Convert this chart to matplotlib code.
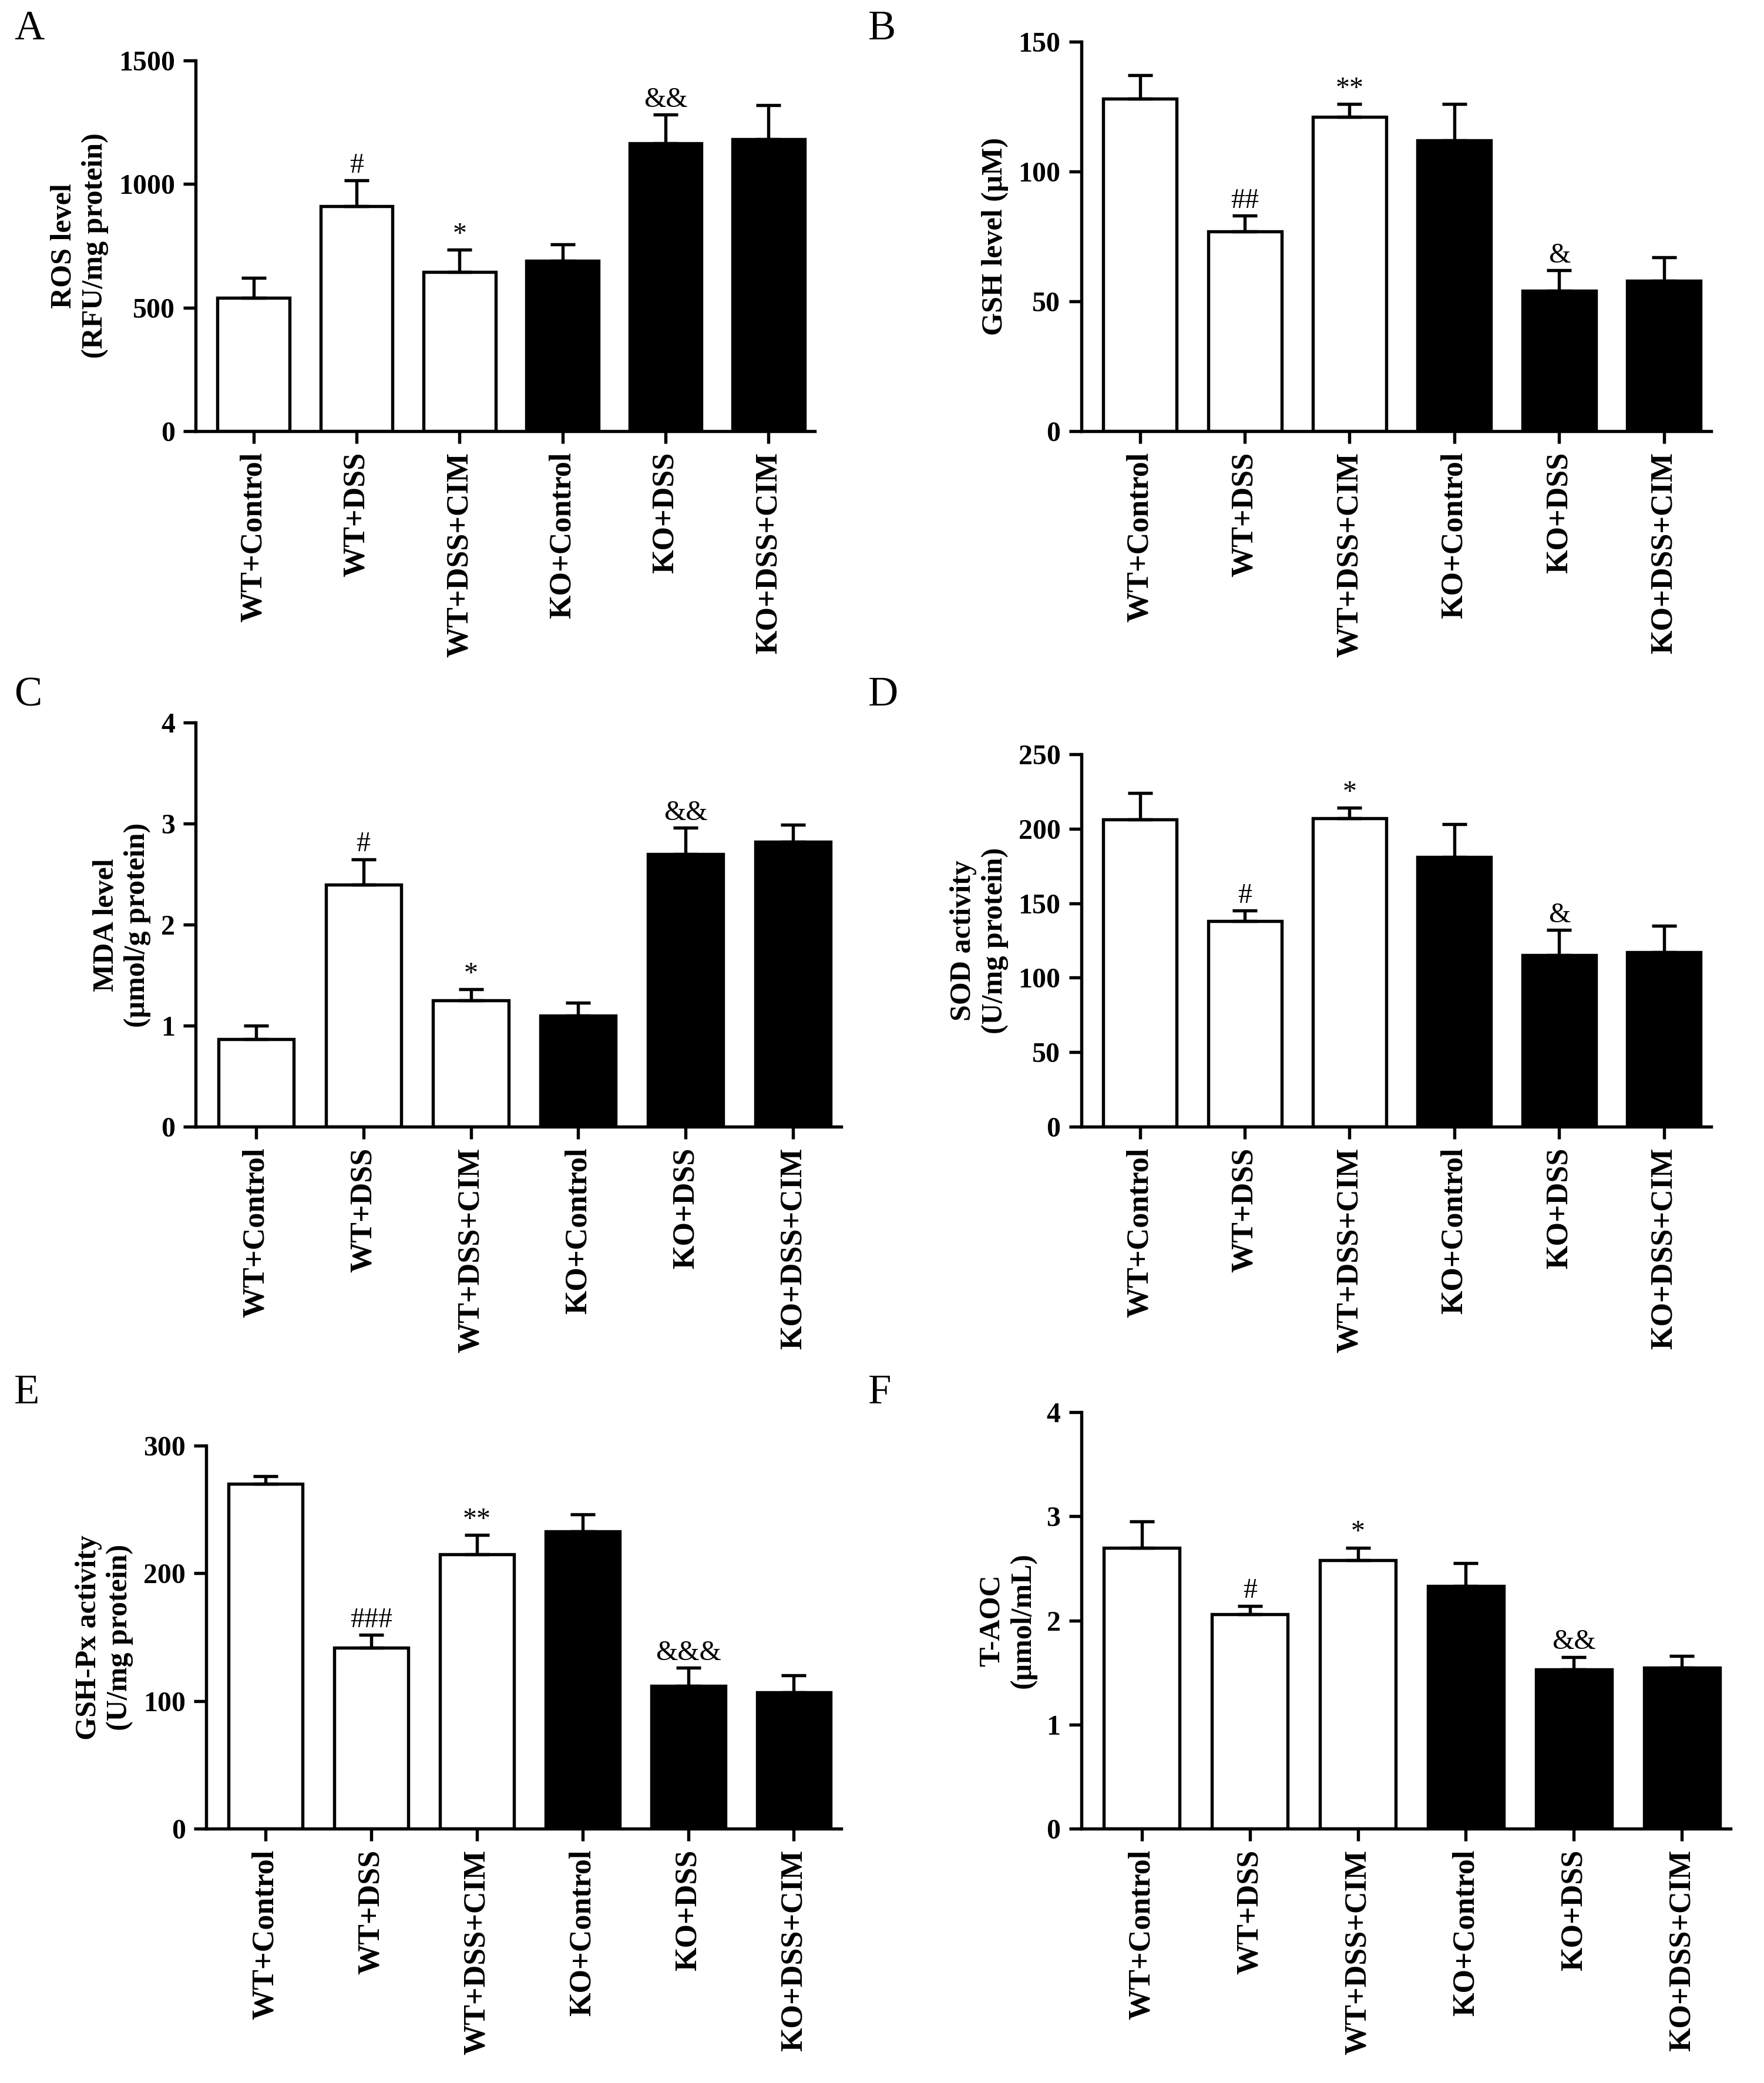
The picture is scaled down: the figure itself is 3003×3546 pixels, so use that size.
import numpy as np
import matplotlib.pyplot as plt

plt.rcParams['font.family'] = ['Liberation Serif', 'DejaVu Serif']

groups = ["WT+Control", "WT+DSS", "WT+DSS+CIM", "KO+Control", "KO+DSS", "KO+DSS+CIM"]
colors = ["white", "white", "white", "black", "black", "black"]

ros = [540, 910, 645, 690, 1165, 1180]
ros_err = [80, 105, 90, 65, 115, 140]
gsh = [128, 77, 121, 112, 54, 58]
gsh_err = [9, 6, 5, 14, 8, 9]
mda = [0.87, 2.40, 1.25, 1.10, 2.70, 2.82]
mda_err = [0.13, 0.25, 0.11, 0.13, 0.26, 0.17]
sod = [206, 138, 207, 181, 115, 117]
sod_err = [18, 7, 7, 22, 17, 18]
gpx = [270, 142, 215, 233, 112, 107]
gpx_err = [6, 10, 15, 13, 14, 13]
taoc = [2.70, 2.06, 2.58, 2.33, 1.53, 1.55]
taoc_err = [0.25, 0.08, 0.12, 0.22, 0.12, 0.11]

panels = [
    ("A", ros, ros_err, "ROS level\n(RFU/mg protein)", [0, 500, 1000, 1500], ["", "#", "*", "", "&&", ""], [0.111, 0.793, 0.351, 0.178], (0.008, 0.977)),
    ("B", gsh, gsh_err, "GSH level (\u03bcM)", [0, 50, 100, 150], ["", "##", "**", "", "&", ""], [0.613, 0.793, 0.357, 0.187], (0.492, 0.977)),
    ("C", mda, mda_err, "MDA level\n(\u03bcmol/g protein)", [0, 1, 2, 3, 4], ["", "#", "*", "", "&&", ""], [0.111, 0.459, 0.366, 0.194], (0.008, 0.657)),
    ("D", sod, sod_err, "SOD activity\n(U/mg protein)", [0, 50, 100, 150, 200, 250], ["", "#", "*", "", "&", ""], [0.613, 0.459, 0.357, 0.179], (0.492, 0.657)),
    ("E", gpx, gpx_err, "GSH-Px activity\n(U/mg protein)", [0, 100, 200, 300], ["", "###", "**", "", "&&&", ""], [0.117, 0.122, 0.360, 0.184], (0.008, 0.322)),
    ("F", taoc, taoc_err, "T-AOC\n(\u03bcmol/mL)", [0, 1, 2, 3, 4], ["", "#", "*", "", "&&", ""], [0.613, 0.122, 0.368, 0.200], (0.492, 0.322)),
]

fig = plt.figure(figsize=(10.01, 11.82), dpi=300)
x = np.arange(len(groups))
for letter, vals, errs, ylab, ticks, marks, rect, lpos in panels:
    ax = fig.add_axes(rect)
    ax.bar(x, vals, width=0.7, color=colors, edgecolor="black", linewidth=1.3)
    ax.errorbar(x, vals, yerr=[np.zeros(len(vals)), errs], fmt="none",
                ecolor="black", elinewidth=1.3, capsize=5, capthick=1.3)
    top = ticks[-1]
    for xi, v, e, m in zip(x, vals, errs, marks):
        if m:
            ax.text(xi, v + e + top * 0.005, m, ha="center", va="bottom", fontsize=11.5)
    ax.set_xlim(-0.56, 5.45)
    ax.set_ylim(0, top)
    ax.set_yticks(ticks)
    ax.set_xticks(x)
    ax.set_xticklabels(groups, rotation=90, fontsize=12.5, fontweight="bold")
    ax.tick_params(axis="y", labelsize=11.5, width=1.3, length=5)
    ax.tick_params(axis="x", width=1.3, length=5)
    for lab in ax.get_yticklabels():
        lab.set_fontweight("bold")
    ax.set_ylabel(ylab, fontsize=12, fontweight="bold")
    for s in ["top", "right"]:
        ax.spines[s].set_visible(False)
    for s in ["left", "bottom"]:
        ax.spines[s].set_linewidth(1.3)
    fig.text(lpos[0], lpos[1], letter, fontsize=17, va="bottom")

fig.savefig("out.png", dpi=300)
